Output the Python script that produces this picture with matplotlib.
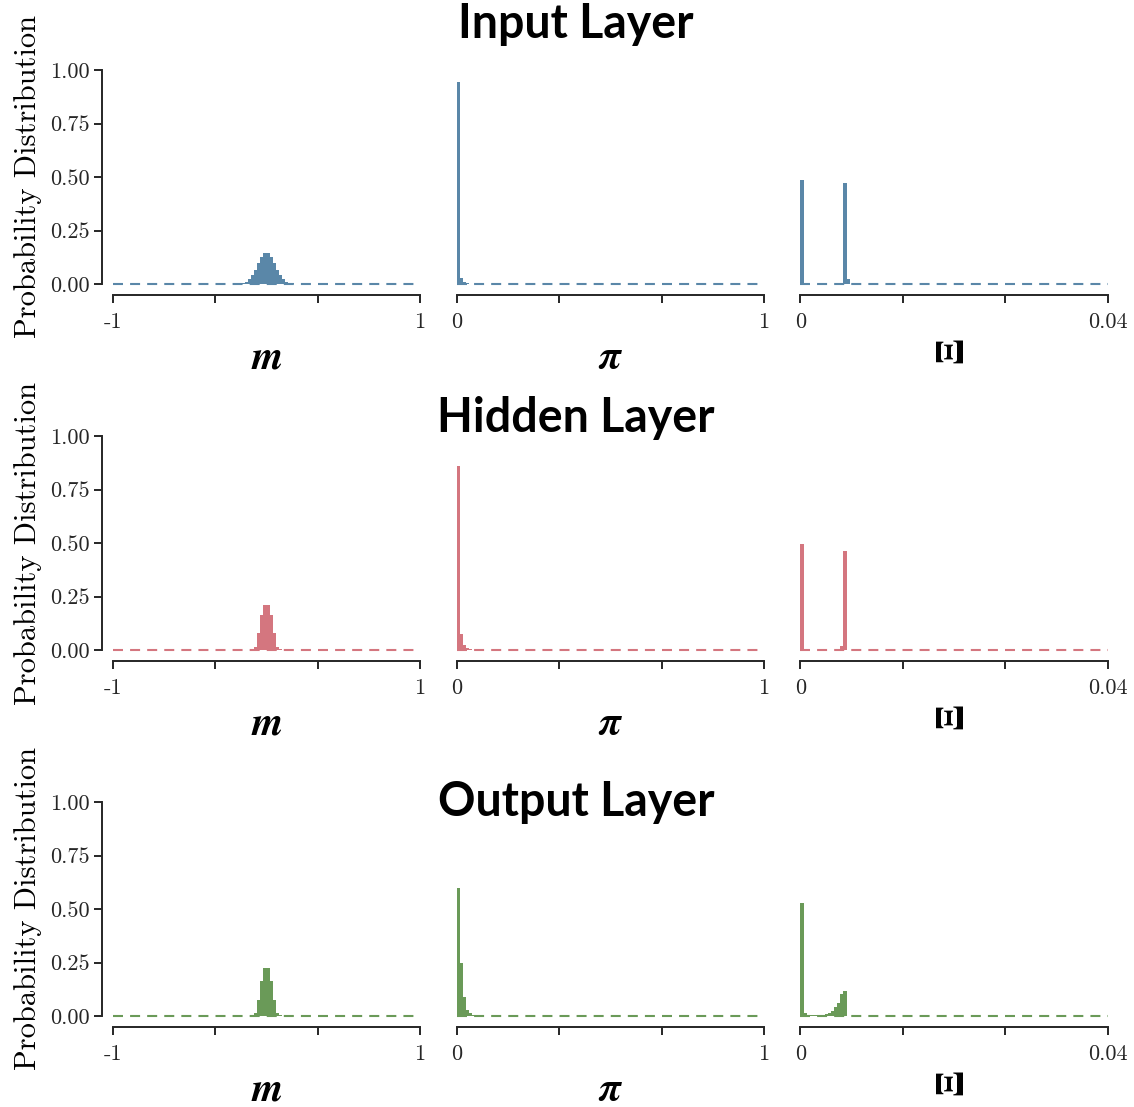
import matplotlib.pyplot as plt
import numpy as np

plt.rcParams['font.family'] = 'cmr10'
plt.rcParams['axes.unicode_minus'] = False

# bin widths of the three histograms
m_width = 0.02
pi_width = 0.01
xi_width = 0.0004

# per-bin probabilities
input_m_start = -0.18
input_m = [0.003, 0.006, 0.01, 0.022, 0.044, 0.065, 0.097, 0.125, 0.146,
           0.146, 0.125, 0.097, 0.065, 0.044, 0.022, 0.01, 0.006, 0.003]
hidden_m_start = -0.12
hidden_m = [0.002, 0.004, 0.015, 0.08, 0.165, 0.21,
            0.21, 0.165, 0.08, 0.015, 0.004, 0.002]
output_m_start = -0.12
output_m = [0.002, 0.004, 0.012, 0.075, 0.165, 0.225,
            0.225, 0.165, 0.075, 0.012, 0.004, 0.002]

input_pi = [0.944, 0.028, 0.008, 0.003, 0.002]
hidden_pi = [0.86, 0.075, 0.022, 0.008, 0.004, 0.002]
output_pi = [0.598, 0.246, 0.087, 0.028, 0.012, 0.007, 0.004, 0.003, 0.002]

input_xi = [0.486, 0, 0, 0, 0, 0, 0, 0, 0, 0, 0, 0, 0, 0, 0.473, 0.025]
hidden_xi = [0.495, 0, 0, 0, 0, 0, 0, 0, 0, 0, 0, 0, 0, 0.02, 0.464]
output_xi = [0.53, 0.012, 0.006, 0.004, 0.003, 0.003, 0.004, 0.005,
             0.008, 0.014, 0.022, 0.04, 0.06, 0.105, 0.117]

layer_titles = ['Input Layer', 'Hidden Layer', 'Output Layer']
layer_colors = ['#5a87a8', '#d4767f', '#6a9a58']
x_limits = [(-1, 1), (0, 1), (0, 0.04)]
x_ticklabels = [['-1', '', '', '1'], ['0', '', '', '1'], ['0', '', '', '0.04']]
x_names = [r'$\boldsymbol{m}$', r'$\boldsymbol{\pi}$', r'$\boldsymbol{\Xi}$']
y_ticks = [0, 0.25, 0.5, 0.75, 1.0]

data = [
    [(input_m_start, m_width, input_m), (0, pi_width, input_pi), (0, xi_width, input_xi)],
    [(hidden_m_start, m_width, hidden_m), (0, pi_width, hidden_pi), (0, xi_width, hidden_xi)],
    [(output_m_start, m_width, output_m), (0, pi_width, output_pi), (0, xi_width, output_xi)],
]

W, H = 1134, 1107
fig = plt.figure(figsize=(W / 100, H / 100), dpi=100)

col_left = [113, 457, 800.5]
row_top = [70, 436, 802]
ax_w, ax_h = 307, 214
title_base = [38, 432, 816]
dark = '#262626'

for r in range(3):
    color = layer_colors[r]
    for c in range(3):
        ax = fig.add_axes([col_left[c] / W, 1 - (row_top[r] + ax_h) / H, ax_w / W, ax_h / H])
        start, width, heights = data[r][c]
        lefts = start + width * np.arange(len(heights))
        ax.bar(lefts, heights, width=width, align='edge', color=color, linewidth=0, zorder=2)
        ax.axhline(0, color=color, lw=1.5, dashes=(4.8, 3.4), zorder=1, clip_on=False)

        ax.set_xlim(*x_limits[c])
        ax.set_ylim(0, 1)
        ax.set_xticks(np.linspace(x_limits[c][0], x_limits[c][1], 4))
        ax.set_xticklabels(x_ticklabels[c])
        if c == 2:
            ax.set_xlabel(x_names[c], fontsize=29, math_fontfamily='stix', labelpad=5,
                          rotation=90)
        else:
            ax.set_xlabel(x_names[c], fontsize=29, math_fontfamily='stix', labelpad=6)

        for s in ['top', 'right']:
            ax.spines[s].set_visible(False)
        ax.spines['bottom'].set_position(('outward', 8))
        ax.spines['bottom'].set_linewidth(1.4)
        ax.spines['bottom'].set_color(dark)
        ax.tick_params(axis='both', direction='out', length=5.5, width=1.4,
                       color=dark, labelsize=16, labelcolor=dark, pad=3)
        ax.tick_params(axis='x', pad=7)
        if c == 0:
            ax.spines['left'].set_position(('outward', 8))
            ax.spines['left'].set_linewidth(1.4)
            ax.spines['left'].set_color(dark)
            ax.set_yticks(y_ticks)
            ax.set_yticklabels(['%.2f' % v for v in y_ticks])
            ax.set_ylabel('Probability Distribution', fontsize=22, labelpad=6)
        else:
            ax.spines['left'].set_visible(False)
            ax.set_yticks([])

    fig.text(576 / W, 1 - title_base[r] / H, layer_titles[r], ha='center', va='baseline',
             fontsize=33.5, fontweight='bold', family='Lato')

fig.savefig('out.png', dpi=100)
